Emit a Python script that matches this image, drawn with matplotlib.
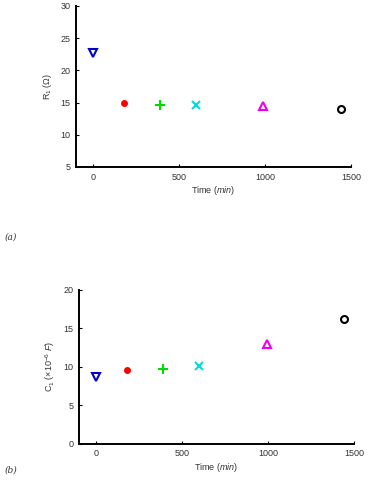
import matplotlib
matplotlib.use("Agg")
import matplotlib.pyplot as plt

time_min = [0, 180, 390, 600, 990, 1440]
r1_ohm = [22.7, 14.95, 14.65, 14.65, 14.4, 14.05]
c1_uF = [8.6, 9.6, 9.75, 10.1, 12.95, 16.2]
markers = ['v', 'o', '+', 'x', '^', 'o']
colors = ['#0000cc', '#ff0000', '#00dd00', '#00dddd', '#ee00ee', '#000000']
filled = [False, True, True, True, False, False]
sizes = [6, 4, 7, 6, 6, 5]

plt.rcParams['font.family'] = ['Liberation Sans', 'DejaVu Sans']
plt.rcParams['mathtext.fontset'] = 'custom'
plt.rcParams['mathtext.rm'] = 'Liberation Sans'
plt.rcParams['mathtext.it'] = 'Liberation Sans:italic'

fig = plt.figure(figsize=(3.71, 4.86), dpi=100)
fs = 6.5
tc = '#333333'


def style(ax, ylim, yticks):
    ax.set_xlim(-100, 1500)
    ax.set_ylim(*ylim)
    ax.set_xticks([0, 500, 1000, 1500])
    ax.set_yticks(yticks)
    for s in ['top', 'right']:
        ax.spines[s].set_visible(False)
    for s in ['left', 'bottom']:
        ax.spines[s].set_linewidth(1.4)
    ax.tick_params(direction='in', length=2, width=0.8, labelsize=fs,
                   labelcolor=tc, pad=4)
    ax.set_xlabel(r'Time ($\it{min}$)', fontsize=fs, color=tc, labelpad=2)


def plot_points(ax, vals):
    for t, v, m, c, f, s in zip(time_min, vals, markers, colors, filled, sizes):
        if m in ('+', 'x'):
            ax.plot(t, v, marker=m, color=c, ms=s, mew=1.5, ls='none', clip_on=False)
        elif f:
            ax.plot(t, v, marker=m, color=c, ms=s, ls='none', clip_on=False)
        else:
            ax.plot(t, v, marker=m, mfc='white', mec=c, ms=s, mew=1.5,
                    ls='none', clip_on=False)


ax1 = fig.add_axes([0.2049, 0.6564, 0.741, 0.3313])
plot_points(ax1, r1_ohm)
style(ax1, (5, 30), [5, 10, 15, 20, 25, 30])
ax1.set_ylabel(r'R$_1$ ($\it{\Omega}$)', fontsize=fs, color=tc, labelpad=5)

ax2 = fig.add_axes([0.213, 0.087, 0.742, 0.317])
plot_points(ax2, c1_uF)
style(ax2, (0, 20), [0, 5, 10, 15, 20])
ax2.set_ylabel(r'C$_1$ ($\times$10$^{-6}$ $\it{F}$)', fontsize=fs, color=tc, labelpad=5)

fig.text(0.012, 0.508, '(a)', fontsize=6.5, family='DejaVu Serif', style='italic', color=tc)
fig.text(0.012, 0.027, '(b)', fontsize=6.5, family='DejaVu Serif', style='italic', color=tc)

fig.savefig('out.png', dpi=100)
